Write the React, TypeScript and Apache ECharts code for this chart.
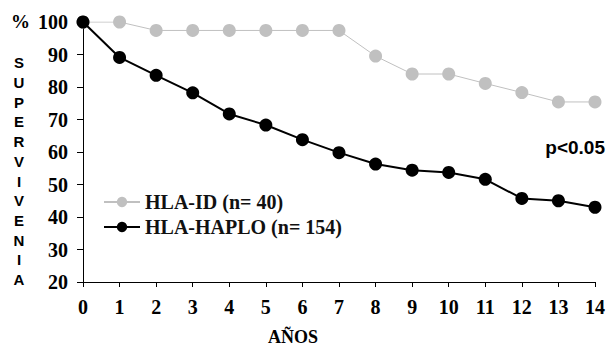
import React, { useEffect, useRef } from "react";
import * as echarts from "echarts";

const years = [0, 1, 2, 3, 4, 5, 6, 7, 8, 9, 10, 11, 12, 13, 14];
const hlaId = [100, 100, 97.4, 97.4, 97.4, 97.4, 97.4, 97.4, 89.5, 84, 84, 81.1, 78.3, 75.4, 75.4];
const hlaHaplo = [100, 89.1, 83.6, 78.2, 71.7, 68.3, 63.8, 59.8, 56.3, 54.4, 53.7, 51.6, 45.7, 45, 43];
const seriesNames = ["HLA-ID (n= 40)", "HLA-HAPLO (n= 154)"];
const yTitleLetters = ["S", "U", "P", "E", "R", "V", "I", "V", "E", "N", "I", "A"];

const serif = "'Liberation Serif', 'Times New Roman', serif";
const sans = "'Liberation Sans', Arial, sans-serif";

export default function App() {
  const ref = useRef<HTMLDivElement>(null);
  useEffect(() => {
    document.body.style.margin = "0";
    if (!ref.current) return;
    const chart = echarts.init(ref.current, null, { renderer: "svg" });
    const pts = (arr: number[]) => years.map((x, i) => [x, arr[i]]);
    chart.setOption({
      animation: false,
      backgroundColor: "#fff",
      grid: { left: 83, right: 10, top: 22, bottom: 67 },
      xAxis: {
        type: "value",
        min: 0,
        max: 14,
        interval: 1,
        axisLine: { lineStyle: { color: "#000", width: 1 } },
        axisTick: { show: true, length: 5, lineStyle: { color: "#000" } },
        axisLabel: { color: "#000", fontFamily: serif, fontWeight: "bold", fontSize: 20, margin: 15 },
        splitLine: { show: false },
      },
      yAxis: {
        type: "value",
        min: 20,
        max: 100,
        interval: 10,
        axisLine: { show: true, lineStyle: { color: "#000", width: 1 } },
        axisTick: { show: true, length: 6, lineStyle: { color: "#000" } },
        axisLabel: { color: "#000", fontFamily: serif, fontWeight: "bold", fontSize: 20, margin: 15 },
        splitLine: { show: false },
      },
      legend: {
        orient: "vertical",
        left: 103,
        top: 192,
        padding: 0,
        itemWidth: 36,
        itemHeight: 13,
        itemGap: 5,
        textStyle: { color: "#111", fontFamily: serif, fontWeight: "bold", fontSize: 20 },
        data: seriesNames,
      },
      series: [
        {
          name: seriesNames[0],
          type: "line",
          data: pts(hlaId),
          symbol: "circle",
          symbolSize: 13,
          itemStyle: { color: "#c0c0c0" },
          lineStyle: { color: "#c0c0c0", width: 1 },
          z: 2,
        },
        {
          name: seriesNames[1],
          type: "line",
          data: pts(hlaHaplo),
          symbol: "circle",
          symbolSize: 13,
          itemStyle: { color: "#000" },
          lineStyle: { color: "#000", width: 2 },
          z: 3,
        },
      ],
      graphic: [
        {
          type: "text",
          left: 11,
          top: 12,
          style: { text: "%", fill: "#000", font: `bold 19px ${serif}` },
        },
        {
          type: "text",
          x: 19,
          y: 53,
          style: {
            text: yTitleLetters.join("\n"),
            fill: "#000",
            font: `bold 15px ${sans}`,
            lineHeight: 19.7,
            align: "center",
          },
        },
        {
          type: "text",
          x: 605,
          y: 138,
          style: { text: "p<0.05", fill: "#000", font: `bold 19px ${sans}`, align: "right" },
        },
        {
          type: "text",
          x: 293,
          y: 328,
          style: { text: "AÑOS", fill: "#000", font: `bold 18px ${serif}`, align: "center" },
        },
      ],
    });
    return () => chart.dispose();
  }, []);
  return <div ref={ref} style={{ width: 608, height: 349 }} />;
}
